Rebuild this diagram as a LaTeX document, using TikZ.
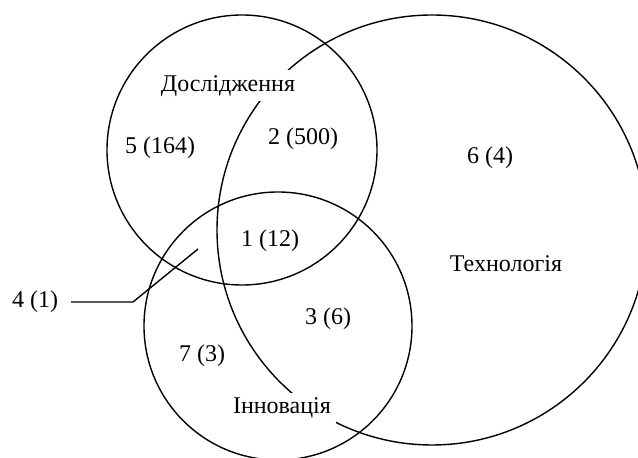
\documentclass[tikz,border=0pt]{standalone}
\usepackage{fontspec}
\setmainfont{Liberation Serif}
\begin{document}
\begin{tikzpicture}[x=0.5pt,y=-0.5pt,
  ring/.style={draw=black,line width=0.7pt},
  setlabel/.style={fill=white,inner sep=2.5pt,font=\fontsize{12}{14}\selectfont},
  count/.style={inner sep=1pt,font=\fontsize{12}{14}\selectfont},
  leader/.style={draw=black,line width=0.7pt}]
\useasboundingbox (0,0) rectangle (638,458);
\clip (0,0) rectangle (638,458);
\coordinate (cR) at (242,150);
\coordinate (cT) at (432,230);
\coordinate (cI) at (278,326);
\draw[ring] (cR) circle[radius=67.5pt];
\draw[ring] (cT) circle[radius=107.5pt];
\draw[ring] (cI) circle[radius=67pt];
\node[setlabel] (lR) at (228,86) {Дослідження};
\node[setlabel] (lI) at (282,408) {Інновація};
\node[count] (lT) at (506,264) {Технологія};
\node[count] (n5) at (160,148) {5 (164)};
\node[count] (n2) at (303,139) {2 (500)};
\node[count] (n6) at (490,158) {6 (4)};
\node[count] (n1) at (270,241) {1 (12)};
\node[count] (n3) at (328,319) {3 (6)};
\node[count] (n7) at (202,356) {7 (3)};
\node[count] (n4) at (35,302) {4 (1)};
\coordinate (l0) at (71,302);
\coordinate (l1) at (133,302);
\coordinate (l2) at (198,249);
\draw[leader] (l0) -- (l1) -- (l2);
\end{tikzpicture}
\end{document}
